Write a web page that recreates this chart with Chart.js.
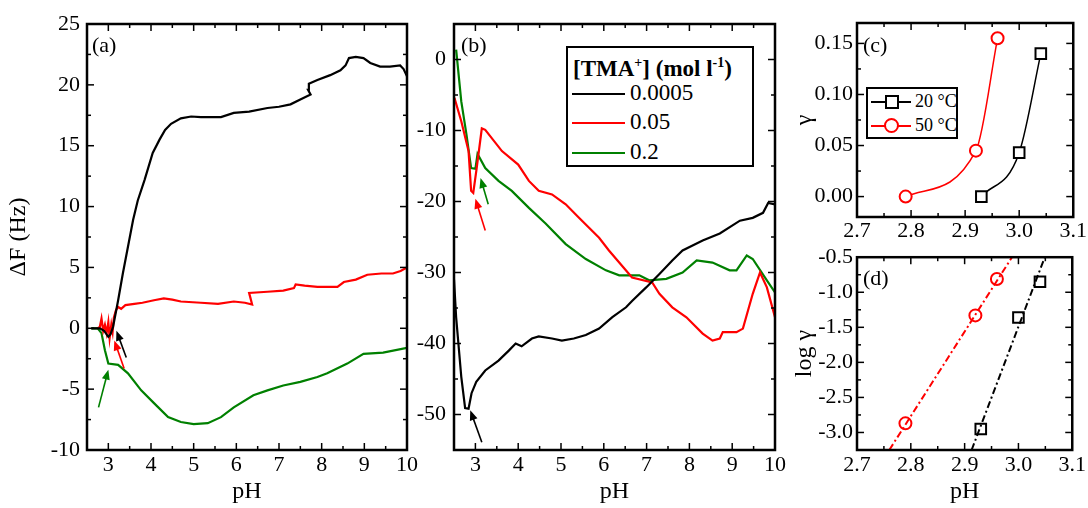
<!DOCTYPE html>
<html>
<head>
<meta charset="utf-8">
<script src="https://cdn.jsdelivr.net/npm/chart.js@4.4.1/dist/chart.umd.min.js"></script>
<style>
body{margin:0;background:#fff;width:1088px;height:508px;overflow:hidden;position:relative;font-family:"Liberation Serif",serif}
.box{position:absolute}
.leg{position:absolute;box-sizing:border-box;border:2px solid #000;background:#fff;color:#000}
.leg div{position:absolute;white-space:nowrap}
.smp{position:absolute;height:0;border-top:2px solid}
</style>
</head>
<body>
<div class="box" style="left:0;top:0;width:420px;height:508px"><canvas id="ca"></canvas></div>
<div class="box" style="left:410px;top:0;width:380px;height:508px"><canvas id="cb"></canvas></div>
<div class="box" style="left:790px;top:0;width:298px;height:240px"><canvas id="cc"></canvas></div>
<div class="box" style="left:790px;top:240px;width:298px;height:268px"><canvas id="cd"></canvas></div>

<div class="leg" style="left:566px;top:46px;width:188px;height:121px;font-size:22px">
  <div style="left:5px;top:7px;font-weight:bold;font-size:23px">[TMA<sup style="font-size:14px">+</sup>] (mol l<sup style="font-size:14px">-1</sup>)</div>
  <span class="smp" style="left:4px;top:45px;width:53px;border-color:#000"></span><div style="left:62px;top:32px;font-size:23px">0.0005</div>
  <span class="smp" style="left:4px;top:74px;width:53px;border-color:#ff0000"></span><div style="left:62px;top:61px;font-size:23px">0.05</div>
  <span class="smp" style="left:4px;top:104px;width:53px;border-color:#008000"></span><div style="left:62px;top:91px;font-size:23px">0.2</div>
</div>

<div class="leg" style="left:866px;top:87px;width:92px;height:52px;font-size:18px">
  <span class="smp" style="left:3px;top:12px;width:40px;border-color:#000"></span>
  <span style="position:absolute;left:17px;top:6px;width:10px;height:10px;border:2px solid #000;background:#fff"></span>
  <div style="left:47px;top:2px">20 °C</div>
  <span class="smp" style="left:3px;top:36px;width:40px;border-color:#ff0000"></span>
  <span style="position:absolute;left:16px;top:29px;width:11px;height:11px;border:2px solid #ff0000;border-radius:50%;background:#fff"></span>
  <div style="left:47px;top:26px">50 °C</div>
</div>

<script>
// panel (a): frequency shift vs pH
const phA_black = [2.6,2.8,2.9,3.0,3.05,3.11,3.23,3.34,3.46,3.58,3.69,3.85,4.04,4.2,4.33,4.47,4.7,4.94,5.17,5.64,5.94,6.3,6.73,7.0,7.27,7.5,7.74,7.68,7.7,7.9,8.2,8.44,8.56,8.64,8.8,8.98,9.14,9.37,9.6,9.84,9.92,10];
const dfA_black = [0,0,-0.2,-0.7,-0.5,0.1,2.3,4.5,6.7,8.9,10.5,12.2,14.4,15.5,16.3,16.8,17.25,17.4,17.35,17.35,17.7,17.8,18.1,18.2,18.4,18.8,19.2,19.6,20.1,20.4,20.8,21.2,21.6,22.2,22.3,22.2,21.8,21.5,21.5,21.6,21.3,20.7];
const phA_red = [2.75,2.8,2.84,2.88,2.92,2.96,3.0,3.03,3.07,3.1,3.13,3.18,3.23,3.3,3.4,3.61,3.8,4.07,4.3,4.5,4.7,5.17,5.57,5.94,6.2,6.37,6.33,6.3,6.73,7.1,7.35,7.39,7.6,7.9,8.37,8.52,8.8,9.07,9.4,9.67,9.85,10];
const dfA_red = [0,0.1,0.8,-0.2,0.3,-0.4,0.5,-0.8,0.3,-0.3,0.9,1.5,1.75,1.6,1.9,2.0,2.1,2.3,2.45,2.35,2.2,2.1,2.0,2.2,2.1,1.95,2.5,2.9,3.0,3.1,3.3,3.6,3.5,3.4,3.4,3.8,4.0,4.4,4.5,4.5,4.7,5.0];
const phA_green = [2.6,2.75,2.84,2.92,3.0,3.23,3.46,3.77,4.07,4.4,4.7,5.0,5.33,5.64,5.94,6.4,6.73,7.1,7.5,7.9,8.13,8.6,8.98,9.44,10];
const dfA_green = [0,0,-0.4,-1.8,-2.9,-3.0,-3.7,-5.1,-6.15,-7.3,-7.7,-7.87,-7.8,-7.3,-6.5,-5.5,-5.1,-4.7,-4.4,-4.0,-3.7,-2.9,-2.1,-2.0,-1.6];

// panel (b)
const phB_black = [2.5,2.55,2.67,2.76,2.84,2.91,3.02,3.23,3.54,3.78,3.94,4.08,4.32,4.48,4.79,5.02,5.3,5.58,5.89,6.2,6.52,6.66,6.99,7.3,7.6,7.84,8.31,8.71,9.18,9.48,9.72,9.84,10];
const dfB_black = [-31,-36.3,-44.7,-49.1,-49.2,-47,-45.4,-43.8,-42.4,-41,-40,-40.4,-39.3,-39,-39.3,-39.6,-39.3,-38.8,-37.9,-36.3,-34.9,-34,-32.1,-30.2,-28.3,-26.9,-25.5,-24.5,-22.7,-22.3,-21.6,-20.2,-20.4];
const phB_red = [2.51,2.67,2.84,2.9,2.95,3.03,3.15,3.23,3.62,4.0,4.25,4.48,4.79,5.11,5.42,5.89,6.12,6.36,6.66,7.13,7.3,7.6,7.93,8.31,8.54,8.71,8.78,9.1,9.25,9.48,9.65,9.81,10];
const dfB_red = [-5.4,-8.7,-12.9,-18.5,-18.8,-15.3,-9.7,-9.9,-12.9,-14.8,-17.1,-18.5,-19,-20.4,-22.3,-25.1,-26.9,-28.6,-30.7,-31.4,-33,-34.9,-36.3,-38.6,-39.6,-39.3,-38.4,-38.4,-37.9,-33,-30,-32.1,-36.3];
const phB_green = [2.55,2.67,2.79,2.9,3.0,3.05,3.23,3.54,3.85,4.25,4.64,5.11,5.58,6.05,6.36,6.83,7.06,7.46,7.84,8.17,8.54,8.94,9.1,9.34,9.48,9.81,10];
const dfB_green = [1.4,-5.9,-10.5,-15.3,-15.4,-13.3,-15.3,-17.1,-18.5,-20.9,-23.1,-26,-28.1,-29.7,-30.4,-30.4,-31.1,-30.9,-30,-28.3,-28.6,-29.7,-29.7,-27.6,-28.1,-31.1,-32.8];

// panel (c) and (d)
const ph20 = [2.93,3.00,3.04];
const gamma20 = [0.0,0.043,0.14];
const ph50 = [2.79,2.92,2.96];
const gamma50 = [0.0,0.045,0.155];
const logg20 = [-2.95,-1.36,-0.85];
const logg50 = [-2.87,-1.33,-0.81];
const fit20_x = [2.913,3.049];
const fit20_y = [-3.25,-0.5];
const fit50_x = [2.76,2.988];
const fit50_y = [-3.25,-0.5];

// tick labels
const phTicks = [3,4,5,6,7,8,9,10];
const aTicks = [-10,-5,0,5,10,15,20,25];
const bTicks = [-50,-40,-30,-20,-10,0];
const cdXTicks = [2.7,2.8,2.9,3.0,3.1];
const cTicks = [0,0.05,0.10,0.15];
const dTicks = [-3.0,-2.5,-2.0,-1.5,-1.0,-0.5];

// arrows [x1,y1,x2,y2] in data units
const arrowsA = [[3.42,-2.4,3.19,-0.2,'#000'],[3.37,-3.3,3.14,-1.0,'#ff0000'],[2.77,-6.5,3.0,-3.4,'#008000']];
const arrowsB = [[3.15,-53.9,2.88,-49.4,'#000'],[3.23,-24.1,3.0,-19.6,'#ff0000'],[3.3,-20.4,3.12,-16.7,'#008000']];

const BLACK='#000', RED='#ff0000', GREEN='#008000';
const tickFont = {family:'Liberation Serif', size:22};
const titleFont = {family:'Liberation Serif', size:24};

function pts(xs, ys){ return xs.map((x,i)=>({x:x, y:ys[i]})); }

function makeDeco(o){
  return {
    id:'deco',
    afterDatasetsDraw(chart){
      const ctx = chart.ctx, a = chart.chartArea;
      const sx = chart.scales.x, sy = chart.scales.y;
      ctx.save();
      ctx.strokeStyle = '#000';
      ctx.lineWidth = 1.5;
      function ln(x1,y1,x2,y2){ ctx.beginPath(); ctx.moveTo(x1,y1); ctx.lineTo(x2,y2); ctx.stroke(); }
      function list(min,max,majors,minor){
        const out=[];
        for(let v=Math.ceil(min/minor-1e-6)*minor; v<=max+1e-9; v+=minor){
          out.push([v, majors.some(t=>Math.abs(t-v)<1e-6)]);
        }
        return out;
      }
      list(sx.min,sx.max,o.xt,o.xm).forEach(([v,m])=>{
        const p=sx.getPixelForValue(v), l=m?7:4;
        ln(p,a.bottom,p,a.bottom-l); ln(p,a.top,p,a.top+l);
      });
      list(sy.min,sy.max,o.yt,o.ym).forEach(([v,m])=>{
        const p=sy.getPixelForValue(v), l=m?7:4;
        ln(a.left,p,a.left+l,p); ln(a.right,p,a.right-l,p);
      });
      ctx.lineWidth = 2.5;
      ctx.strokeRect(a.left,a.top,a.right-a.left,a.bottom-a.top);
      (o.arrows||[]).forEach(ar=>{
        const x1=sx.getPixelForValue(ar[0]), y1=sy.getPixelForValue(ar[1]);
        const x2=sx.getPixelForValue(ar[2]), y2=sy.getPixelForValue(ar[3]);
        const ang=Math.atan2(y2-y1,x2-x1);
        ctx.strokeStyle=ar[4]; ctx.fillStyle=ar[4]; ctx.lineWidth=1.6;
        ln(x1,y1,x2-6*Math.cos(ang),y2-6*Math.sin(ang));
        ctx.beginPath();
        ctx.moveTo(x2,y2);
        ctx.lineTo(x2-10*Math.cos(ang)+4*Math.sin(ang), y2-10*Math.sin(ang)-4*Math.cos(ang));
        ctx.lineTo(x2-10*Math.cos(ang)-4*Math.sin(ang), y2-10*Math.sin(ang)+4*Math.cos(ang));
        ctx.closePath(); ctx.fill();
      });
      ctx.fillStyle='#000';
      ctx.font='22px "Liberation Serif"';
      ctx.textBaseline='middle';
      ctx.fillText(o.label, a.left+o.lx, a.top+o.ly);
      ctx.restore();
    }
  };
}

function line(data, color){
  return {data:data, showLine:true, borderColor:color, backgroundColor:color, borderWidth:2.2, pointRadius:0, tension:0};
}

function axis(min,max,ticks,size,fmt,pad,title,titlePad){
  return {
    type:'linear', min:min, max:max,
    afterBuildTicks: s => { s.ticks = ticks.map(v=>({value:v})); },
    afterFit: s => { if (s.isHorizontal()) s.height = size; else s.width = size; },
    grid:{display:false, drawTicks:false},
    border:{display:false},
    ticks:{font:tickFont, color:'#000', padding:pad, autoSkip:false, maxRotation:0, callback:fmt},
    title:{display:!!title, text:title||'', font:titleFont, color:'#000', padding:titlePad||0}
  };
}

function build(id, datasets, scales, padding, deco){
  return new Chart(document.getElementById(id), {
    type:'scatter',
    data:{datasets:datasets},
    options:{
      responsive:true, maintainAspectRatio:false, animation:false,
      layout:{padding:padding},
      plugins:{legend:{display:false}, tooltip:{enabled:false}},
      scales:scales
    },
    plugins:[makeDeco(deco)]
  });
}

const intFmt = v => String(v);

build('ca',
  [line(pts(phA_black,dfA_black),BLACK), line(pts(phA_red,dfA_red),RED), line(pts(phA_green,dfA_green),GREEN)],
  {x:axis(2.5,10,phTicks,58,intFmt,2,'pH',{top:0,bottom:2}),
   y:axis(-10,25,aTicks,87,intFmt,7,'ΔF (Hz)',{top:4,bottom:0})},
  {left:0,right:13,top:24,bottom:0},
  {xt:phTicks,xm:0.5,yt:aTicks,ym:2.5,arrows:arrowsA,label:'(a)',lx:5,ly:22});

build('cb',
  [line(pts(phB_black,dfB_black),BLACK), line(pts(phB_red,dfB_red),RED), line(pts(phB_green,dfB_green),GREEN)],
  {x:axis(2.5,10,phTicks,58,intFmt,2,'pH',{top:0,bottom:2}),
   y:axis(-55,5,bTicks,44,intFmt,8)},
  {left:0,right:15,top:24,bottom:0},
  {xt:phTicks,xm:0.5,yt:bTicks,ym:5,arrows:arrowsB,label:'(b)',lx:7,ly:22});

build('cc',
  [{data:pts(ph20,gamma20), showLine:true, borderColor:BLACK, borderWidth:1.5, cubicInterpolationMode:'monotone',
    pointStyle:'rect', pointRadius:7.5, pointBorderWidth:2, pointBorderColor:BLACK, pointBackgroundColor:'#fff'},
   {data:pts(ph50,gamma50), showLine:true, borderColor:RED, borderWidth:1.5, cubicInterpolationMode:'monotone',
    pointStyle:'circle', pointRadius:6, pointBorderWidth:2, pointBorderColor:RED, pointBackgroundColor:'#fff'}],
  {x:axis(2.7,3.1,cdXTicks,23,v=>v.toFixed(1),1),
   y:axis(-0.02,0.17,cTicks,67,v=>v.toFixed(2),4,'γ',{top:0,bottom:0})},
  {left:0,right:13,top:23,bottom:0},
  {xt:cdXTicks,xm:0.05,yt:cTicks,ym:0.025,label:'(c)',lx:6,ly:23});

build('cd',
  [{data:pts(fit20_x,fit20_y), showLine:true, borderColor:BLACK, borderWidth:2, borderDash:[7,3,2,3], pointRadius:0},
   {data:pts(fit50_x,fit50_y), showLine:true, borderColor:RED, borderWidth:2, borderDash:[7,3,2,3], pointRadius:0},
   {data:pts(ph20,logg20), showLine:false, pointStyle:'rect', pointRadius:7.5, pointBorderWidth:2, pointBorderColor:BLACK, pointBackgroundColor:'#fff'},
   {data:pts(ph50,logg50), showLine:false, pointStyle:'circle', pointRadius:6, pointBorderWidth:2, pointBorderColor:RED, pointBackgroundColor:'#fff'}],
  {x:axis(2.7,3.1,cdXTicks,58,v=>v.toFixed(1),2,'pH',{top:0,bottom:2}),
   y:axis(-3.25,-0.5,dTicks,67,v=>v.toFixed(1),4,'log γ',{top:0,bottom:0})},
  {left:0,right:13,top:15,bottom:0},
  {xt:cdXTicks,xm:0.05,yt:dTicks,ym:0.25,label:'(d)',lx:6,ly:22});
</script>
</body>
</html>
